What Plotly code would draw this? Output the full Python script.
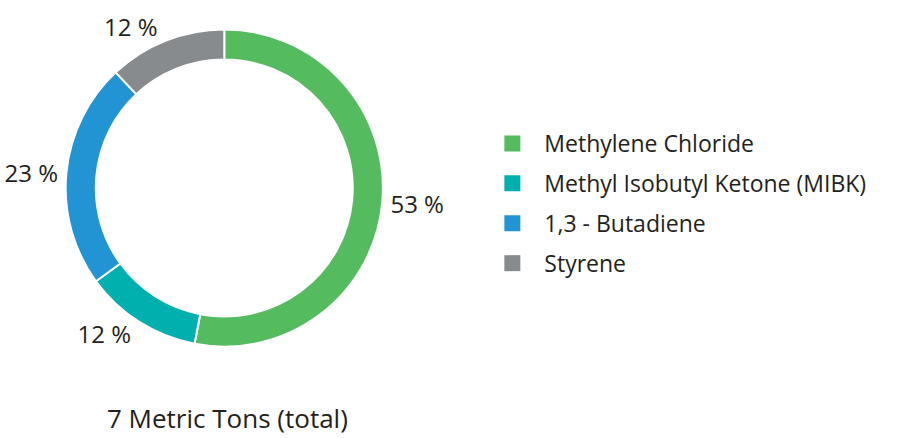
import plotly.graph_objects as go

labels = ["Methylene Chloride", "Methyl Isobutyl Ketone (MIBK)", "1,3 - Butadiene", "Styrene"]
values = [53, 12, 23, 12]
colors = ["#55bb5f", "#00b0ae", "#2394d3", "#878b8e"]
caption = "7 Metric Tons (total)"

W, H = 903, 438
cx, cy, r = 220.5, 188, 159.5
FONT = "Open Sans"
TXT = "#231f20"

fig = go.Figure()
fig.add_trace(go.Pie(
    labels=labels,
    values=values,
    hole=0.81,
    sort=False,
    direction="clockwise",
    rotation=0,
    marker=dict(colors=colors, line=dict(color="white", width=2)),
    text=[f"{v} %" for v in values],
    textinfo="text",
    textposition="outside",
    outsidetextfont=dict(size=24, color=TXT, family=FONT),
    domain=dict(x=[(cx - r) / W, (cx + r) / W], y=[1 - (cy + r) / H, 1 - (cy - r) / H]),
    showlegend=False,
    hoverinfo="label+percent",
))

# legend entries (one per category, same colours as the slices)
for lab, col in zip(labels, colors):
    fig.add_trace(go.Scatter(
        x=[None], y=[None], mode="markers", name=lab, legendgroup=lab,
        marker=dict(symbol="square", size=18, color=col),
        showlegend=True, hoverinfo="skip",
    ))

fig.update_layout(
    width=W, height=H,
    margin=dict(l=0, r=0, t=0, b=0),
    paper_bgcolor="white",
    plot_bgcolor="white",
    font=dict(family=FONT, color=TXT, size=23),
    xaxis=dict(visible=False),
    yaxis=dict(visible=False),
    legend=dict(x=478 / W, y=1 - 203.5 / H, xanchor="left", yanchor="middle",
                font=dict(size=23, family=FONT, color=TXT), itemwidth=54,
                tracegroupgap=7, bgcolor="rgba(0,0,0,0)"),
    annotations=[dict(text=caption, x=223.5 / W, y=0, xref="paper", yref="paper",
                      showarrow=False, font=dict(size=26, color=TXT, family=FONT),
                      xanchor="center", yanchor="bottom")],
)

fig.write_html("out.html", config={"displayModeBar": False},
               post_script="document.body.style.margin='0';")
